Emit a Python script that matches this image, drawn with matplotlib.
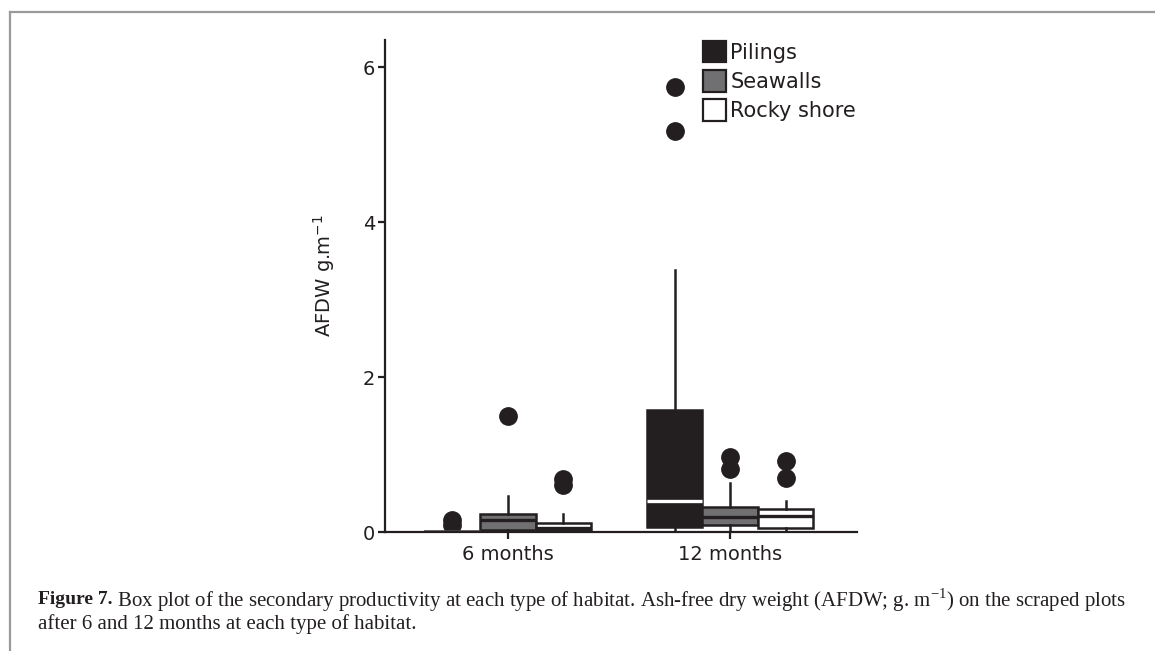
import matplotlib
matplotlib.use("Agg")
import matplotlib.pyplot as plt
from matplotlib.patches import Patch
from matplotlib.lines import Line2D

periods = ["6 months", "12 months"]
habitats = ["Pilings", "Seawalls", "Rocky shore"]

# per habitat: one value for each period (6, 12 months)
pilings_lo = [0.0, 0.01]
pilings_q1 = [0.0, 0.07]
pilings_med = [0.005, 0.40]
pilings_q3 = [0.01, 1.57]
pilings_hi = [0.01, 3.38]
pilings_out = [[0.15, 0.09], [5.74, 5.18]]

seawalls_lo = [0.0, 0.0]
seawalls_q1 = [0.03, 0.09]
seawalls_med = [0.15, 0.19]
seawalls_q3 = [0.23, 0.32]
seawalls_hi = [0.46, 0.63]
seawalls_out = [[1.50], [0.97, 0.81]]

rocky_lo = [0.0, 0.0]
rocky_q1 = [0.02, 0.05]
rocky_med = [0.05, 0.21]
rocky_q3 = [0.11, 0.30]
rocky_hi = [0.23, 0.40]
rocky_out = [[0.69, 0.61], [0.92, 0.70]]

dark = "#231f20"
fills = [dark, "#707073", "white"]
median_colors = ["white", dark, dark]
offsets = [-0.25, 0.0, 0.25]

stats = {
    "Pilings": (pilings_lo, pilings_q1, pilings_med, pilings_q3, pilings_hi, pilings_out),
    "Seawalls": (seawalls_lo, seawalls_q1, seawalls_med, seawalls_q3, seawalls_hi, seawalls_out),
    "Rocky shore": (rocky_lo, rocky_q1, rocky_med, rocky_q3, rocky_hi, rocky_out),
}

plt.rcParams["font.family"] = "DejaVu Sans"
fig = plt.figure(figsize=(11.55, 6.51), dpi=100)
ax = fig.add_axes([385 / 1155, 1 - 532 / 651, 472 / 1155, 492 / 651])

for k, name in enumerate(habitats):
    lo, q1, med, q3, hi, out = stats[name]
    boxes = []
    for i in range(len(periods)):
        boxes.append(dict(whislo=lo[i], q1=q1[i], med=med[i], q3=q3[i],
                          whishi=hi[i], fliers=out[i], label=""))
    pos = [i + offsets[k] for i in range(len(periods))]
    ax.bxp(boxes, positions=pos, widths=0.25, patch_artist=True,
           showcaps=False, manage_ticks=False,
           boxprops=dict(facecolor=fills[k], edgecolor=dark, linewidth=1.8),
           whiskerprops=dict(color=dark, linewidth=1.8),
           medianprops=dict(color=median_colors[k], linewidth=2.4),
           flierprops=dict(marker="o", markerfacecolor=dark,
                           markeredgecolor=dark, markersize=12.5))

ax.set_xlim(-0.554, 1.572)
ax.set_ylim(0, 6.35)
ax.set_xticks(range(len(periods)))
ax.set_xticklabels(periods)
ax.set_yticks([0, 2, 4, 6])
for side in ["top", "right"]:
    ax.spines[side].set_visible(False)
for side in ["left", "bottom"]:
    ax.spines[side].set_linewidth(1.6)
    ax.spines[side].set_color(dark)
ax.tick_params(axis="both", length=5, width=1.6, color=dark,
               labelcolor=dark, labelsize=14, pad=2)
ax.tick_params(axis="x", pad=4)
ax.set_ylabel("AFDW g.m$^{\\mathregular{-1}}$", fontsize=14, color=dark)
ax.yaxis.set_label_coords(-0.102, 0.52)

handles = [Patch(facecolor=fills[k], edgecolor=dark, linewidth=1.6, label=h)
           for k, h in enumerate(habitats)]
ax.legend(handles=handles, loc="upper left", bbox_to_anchor=(0.674, 0.998),
          frameon=False, fontsize=15, handlelength=1.1, handleheight=1.2,
          handletextpad=0.2, labelspacing=0.36, borderpad=0, borderaxespad=0,
          labelcolor=dark)

# page frame lines
grey = "#9a9a9c"
fig.add_artist(Line2D([10 / 1155, 1], [1 - 12 / 651, 1 - 12 / 651],
                      color=grey, linewidth=1.6, transform=fig.transFigure))
fig.add_artist(Line2D([10 / 1155, 10 / 1155], [0, 1 - 12 / 651],
                      color=grey, linewidth=1.6, transform=fig.transFigure))

# caption
serif = "Liberation Serif"
cap_size = 15
t1 = fig.text(38 / 1155, 1 - 600 / 651, "Figure 7.", fontsize=cap_size - 1,
              fontweight="bold", family=serif, color=dark, va="center")
fig.canvas.draw()
ax.annotate(" Box plot of the secondary productivity at each type of habitat. "
            "Ash-free dry weight (AFDW; g. m$^{\\mathregular{-1}}$) on the scraped plots",
            xy=(1, 0.5), xycoords=t1, va="center", ha="left",
            fontsize=cap_size, family=serif, color=dark, annotation_clip=False)
fig.text(38 / 1155, 1 - 624 / 651,
         "after 6 and 12 months at each type of habitat.",
         fontsize=cap_size, family=serif, color=dark, va="center")

fig.savefig("out.png", dpi=100)
